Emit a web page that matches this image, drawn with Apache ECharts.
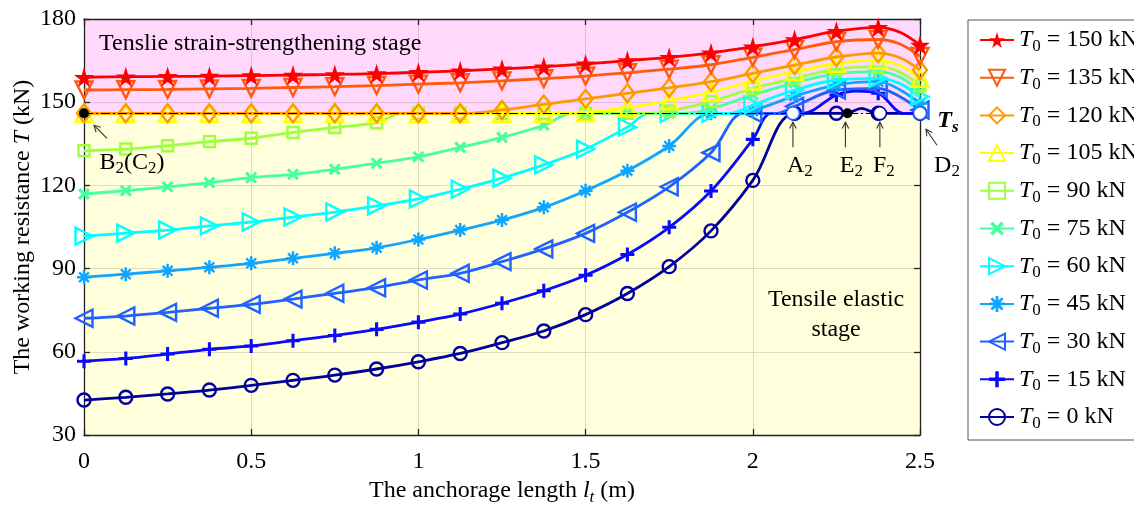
<!DOCTYPE html>
<html>
<head>
<meta charset="utf-8">
<script src="https://cdn.jsdelivr.net/npm/echarts@6/dist/echarts.min.js"></script>
<style>
html, body { margin: 0; padding: 0; background: #fff; }
#chart { width: 1134px; height: 507px; }
</style>
</head>
<body>
<div id="chart"></div>
<script>
// anchorage length where markers sit (m)
var xs = [0, 0.125, 0.25, 0.375, 0.5, 0.625, 0.75, 0.875, 1, 1.125, 1.25, 1.375, 1.5, 1.625, 1.75, 1.875, 2, 2.125, 2.25, 2.375, 2.5];
var TS = 146; // Ts, kN

// working resistance at the markers (kN), one array per T0
var t150 = [159.0, 159.2, 159.3, 159.4, 159.6, 159.8, 160.0, 160.3, 160.8, 161.3, 162.0, 162.8, 163.8, 165.0, 166.2, 167.8, 170.0, 172.6, 175.6, 177.0, 170.6];
var t135 = [154.4, 154.5, 154.6, 154.8, 155.0, 155.3, 155.6, 156.0, 156.5, 157.0, 157.7, 158.5, 159.4, 160.6, 161.9, 163.5, 166.2, 169.0, 171.8, 172.6, 166.5];
var t120 = [146, 146, 146, 146, 146, 146, 146, 146, 146, 146, 147.2, 149.2, 151.2, 153.2, 155.2, 157.4, 160.4, 163.4, 166.3, 167.7, 161.6];
var t105 = [146, 146, 146, 146, 146, 146, 146, 146, 146, 146, 146, 146, 146.3, 148.0, 150.6, 153.6, 157.6, 161.0, 164.0, 165.2, 158.6];
var t90 = [132.5, 133.1, 134.3, 135.8, 137.0, 139.1, 140.9, 142.6, 146, 146, 146, 146, 146, 146, 146.8, 150.2, 155.0, 158.6, 161.9, 162.8, 156.0];
var t75 = [116.9, 118.1, 119.5, 121.0, 122.8, 124.0, 125.8, 128.0, 130.3, 133.7, 137.3, 141.7, 146, 146, 146, 147.6, 152.6, 157.0, 160.2, 161.0, 154.0];
var t60 = [101.7, 102.8, 103.9, 105.4, 106.8, 108.6, 110.4, 112.6, 115.1, 118.6, 122.6, 127.4, 133.1, 141.0, 146, 146, 149.0, 154.4, 158.0, 158.6, 152.0];
var t45 = [86.9, 88.0, 89.2, 90.5, 91.9, 93.7, 95.5, 97.5, 100.5, 103.9, 107.5, 112.1, 118.1, 125.3, 134.2, 146, 146.8, 152.2, 156.2, 157.4, 149.5];
var t30 = [72.1, 72.9, 74.2, 75.7, 77.1, 79.0, 81.1, 83.1, 85.9, 88.3, 92.5, 97.1, 102.7, 110.3, 119.5, 131.8, 146, 148.5, 154.4, 155.0, 147.2];
var t15 = [56.6, 57.6, 59.2, 60.9, 62.1, 64.0, 65.9, 68.1, 70.7, 73.6, 77.5, 82.0, 87.6, 95.1, 104.9, 118.0, 136.6, 146, 152.6, 153.2, 146];
var t0 = [42.6, 43.6, 44.8, 46.2, 47.9, 49.7, 51.6, 53.8, 56.4, 59.4, 63.3, 67.5, 73.4, 81.0, 90.7, 103.6, 121.8, 146, 146, 146, 146];

// extra curve points between markers [l, T] (no marker)
var k150 = [[2.44, 175.2]];
var k135 = [[2.44, 171.0]];
var k120 = [[1.15, 146], [2.44, 166.0]];
var k105 = [[1.43, 146], [2.44, 163.2]];
var k90 = [[0.95, 146], [1.69, 146], [2.44, 160.8]];
var k75 = [[1.46, 146], [1.8, 146], [2.44, 159.0]];
var k60 = [[1.69, 146], [1.93, 146], [2.44, 156.7]];
var k45 = [[1.97, 146], [2.44, 154.5]];
var k30 = [[1.97, 146], [2.07, 146], [2.44, 152.0]];
var k15 = [[2.055, 146], [2.15, 146], [2.31, 154.0], [2.45, 146]];
var k0 = [[2.28, 146], [2.325, 147.8], [2.37, 146]];

var t0Labels = ['0', '15', '30', '45', '60', '75', '90', '105', '120', '135', '150'];
var colors = ['#00009c', '#0a0aff', '#1f62ff', '#10a6ff', '#00ffff', '#45ffa0', '#9dff40', '#ffff00', '#ff9900', '#ff5a10', '#ff0000'];

var serif = '"Liberation Serif", "Times New Roman", serif';

var starPath = 'path://M50,0 L61,35 L98,35 L68,57 L79,91 L50,70 L21,91 L32,57 L2,35 L39,35 Z';
var plusPath = 'path://M3.9,0 H6.1 V3.9 H10 V6.1 H6.1 V10 H3.9 V6.1 H0 V3.9 H3.9 Z';
var astPath = 'path://M4.1,0 H5.9 V4.1 H10 V5.9 H5.9 V10 H4.1 V5.9 H0 V4.1 H4.1 Z M2.1,0.9 L9.1,7.9 L7.9,9.1 L0.9,2.1 Z M7.9,0.9 L9.1,2.1 L2.1,9.1 L0.9,7.9 Z';

var marks = [
  { symbol: 'circle', size: 13, hollow: true },
  { symbol: plusPath, size: 14 },
  { symbol: 'triangle', size: 17, rotate: 90, hollow: true },
  { symbol: astPath, size: 14 },
  { symbol: 'triangle', size: 17, rotate: -90, hollow: true },
  { symbol: plusPath, size: 14, rotate: 45 },
  { symbol: 'rect', size: 11, hollow: true },
  { symbol: 'triangle', size: 17, hollow: true },
  { symbol: 'diamond', size: [14, 18], hollow: true },
  { symbol: 'triangle', size: 17, rotate: 180, hollow: true },
  { symbol: starPath, size: 20 }
];

var values = [t0, t15, t30, t45, t60, t75, t90, t105, t120, t135, t150];
var extras = [k0, k15, k30, k45, k60, k75, k90, k105, k120, k135, k150];

function buildData(vals, extra) {
  var pts = xs.map(function (x, i) { return { value: [x, vals[i]] }; });
  extra.forEach(function (p) { pts.push({ value: p, symbol: 'none' }); });
  pts.sort(function (a, b) { return a.value[0] - b.value[0]; });
  return pts;
}

var rich = {
  n: { fontFamily: serif, fontSize: 24, lineHeight: 30, color: '#000' },
  i: { fontFamily: serif, fontSize: 24, lineHeight: 30, fontStyle: 'italic', color: '#000' },
  s: { fontFamily: serif, fontSize: 17, lineHeight: 17, verticalAlign: 'bottom', color: '#000' },
  si: { fontFamily: serif, fontSize: 17, lineHeight: 17, verticalAlign: 'bottom', fontStyle: 'italic', color: '#000' },
  b: { fontFamily: serif, fontSize: 24, lineHeight: 30, fontStyle: 'italic', fontWeight: 'bold', color: '#000' },
  bs: { fontFamily: serif, fontSize: 17, lineHeight: 17, verticalAlign: 'bottom', fontStyle: 'italic', fontWeight: 'bold', color: '#000' }
};

var series = values.map(function (vals, i) {
  var m = marks[i];
  var c = colors[i];
  return {
    name: t0Labels[i],
    type: 'line',
    smooth: 0.35,
    showAllSymbol: true,
    symbol: m.symbol,
    symbolSize: m.size,
    symbolRotate: m.rotate || 0,
    lineStyle: { color: c, width: 2.8 },
    itemStyle: m.hollow
      ? { color: 'rgba(0,0,0,0)', borderColor: c, borderWidth: 2.4 }
      : { color: c, borderWidth: 0 },
    emphasis: { disabled: true },
    data: buildData(vals, extras[i]),
    z: 2 + i * 0.01
  };
});

function textPoint(coord, text, offset, extra) {
  var lab = { show: true, formatter: text, offset: offset, rich: rich, color: '#000' };
  for (var k in extra) lab[k] = extra[k];
  return { coord: coord, symbol: 'circle', symbolSize: 0.1, label: lab };
}

// pink strain-strengthening band, Ts dash-dot line
series.push({
  name: 'bands',
  type: 'line',
  data: [],
  markArea: {
    silent: true,
    itemStyle: { color: '#ffd8fb' },
    data: [[{ coord: [0, TS] }, { coord: [2.5, 180] }]]
  },
  markLine: {
    silent: true,
    symbol: 'none',
    label: { show: false },
    lineStyle: { color: '#000', width: 1.2, type: [9, 3, 2, 3] },
    data: [{ yAxis: TS }]
  }
});

// characteristic points B2(C2), A2, E2, F2, D2 and the text notes
var pB = [0, TS], pA = [2.12, TS], pE = [2.283, TS], pF = [2.38, TS], pD = [2.5, TS];

series.push({
  name: 'points',
  type: 'line',
  data: [],
  z: 6,
  markPoint: {
    silent: true,
    data: [
      { coord: pB, symbol: 'circle', symbolSize: 10, itemStyle: { color: '#000' }, label: { show: false } },
      { coord: pE, symbol: 'circle', symbolSize: 10, itemStyle: { color: '#000' }, label: { show: false } },
      { coord: pA, symbol: 'circle', symbolSize: 13, itemStyle: { color: '#fff', borderColor: '#1f62ff', borderWidth: 1.5 }, label: { show: false } },
      { coord: pF, symbol: 'circle', symbolSize: 13, itemStyle: { color: '#fff', borderColor: '#00009c', borderWidth: 1.5 }, label: { show: false } },
      { coord: pD, symbol: 'circle', symbolSize: 13, itemStyle: { color: '#fff', borderColor: '#1f62ff', borderWidth: 1.5 }, label: { show: false } },
      textPoint(pB, '{n|B}{s|2}{n|(C}{s|2}{n|)}', [48, 49]),
      textPoint(pA, '{n|A}{s|2}', [7, 52]),
      textPoint(pE, '{n|E}{s|2}', [4, 52]),
      textPoint(pF, '{n|F}{s|2}', [4, 52]),
      textPoint(pD, '{n|D}{s|2}', [27, 52]),
      textPoint(pD, '{b|T}{bs|s}', [28, 8]),
      textPoint([0.045, 171], '{n|Tenslie strain-strengthening stage}', [0, 0], { position: 'right', distance: 0 }),
      textPoint([2.249, 73.5], '{n|Tensile elastic}\n{n|stage}', [0, 0], { align: 'center', lineHeight: 28 })
    ]
  }
});

// arrows pointing at the characteristic points: tail and head offsets in px
var arrows = [
  { at: pB, tail: [23, 25], head: [10, 12] },
  { at: pA, tail: [0, 34], head: [0, 9] },
  { at: pE, tail: [-2, 34], head: [-2, 9] },
  { at: pF, tail: [0, 34], head: [0, 9] },
  { at: pD, tail: [17, 32], head: [6, 16] }
];

var axisLineStyle = { color: '#222', width: 1.3 };
var tickStyle = { inside: true, length: 6, lineStyle: { color: '#222', width: 1.3 } };
var gridLine = { show: true, lineStyle: { color: 'rgba(0,0,0,0.13)', width: 1 } };
var labelStyle = { fontFamily: serif, fontSize: 24, color: '#000' };

var chart = echarts.init(document.getElementById('chart'));
chart.setOption({
  animation: false,
  backgroundColor: '#fff',
  grid: {
    left: 84, right: 214, top: 19, bottom: 72,
    outerBoundsMode: 'none', containLabel: false,
    show: true, backgroundColor: '#ffffdc', borderWidth: 0
  },
  xAxis: [{
    type: 'value', min: 0, max: 2.5, interval: 0.5, position: 'bottom', z: 1.5,
    axisLine: { show: true, onZero: false, lineStyle: axisLineStyle },
    axisTick: tickStyle,
    splitLine: gridLine,
    axisLabel: Object.assign({ margin: 15 }, labelStyle),
    name: '{n|The anchorage length }{i|l}{si|t}{n| (m)}',
    nameLocation: 'middle', nameGap: 41, nameMoveOverlap: false,
    nameTextStyle: { rich: rich }
  }, {
    type: 'value', min: 0, max: 2.5, interval: 0.5, position: 'top', z: 1.5,
    axisLine: { show: true, onZero: false, lineStyle: axisLineStyle },
    axisTick: tickStyle, axisLabel: { show: false }, splitLine: { show: false }
  }],
  yAxis: [{
    type: 'value', min: 30, max: 180, interval: 30, position: 'left', z: 1.5,
    axisLine: { show: true, onZero: false, lineStyle: axisLineStyle },
    axisTick: tickStyle,
    splitLine: gridLine,
    axisLabel: Object.assign({ margin: 8 }, labelStyle),
    name: '{n|The working resistance }{i|T}{n| (kN)}',
    nameLocation: 'middle', nameGap: 46, nameMoveOverlap: false,
    nameTextStyle: { rich: rich }
  }, {
    type: 'value', min: 30, max: 180, interval: 30, position: 'right', z: 1.5,
    axisLine: { show: true, onZero: false, lineStyle: axisLineStyle },
    axisTick: tickStyle, axisLabel: { show: false }, splitLine: { show: false }
  }],
  legend: {
    data: t0Labels.slice().reverse(),
    orient: 'vertical',
    left: 968, top: 20,
    padding: [8, 40, 8, 11],
    itemGap: 10.7,
    itemWidth: 34, itemHeight: 20,
    itemTextGap: 8,
    borderColor: '#555', borderWidth: 1,
    backgroundColor: '#fff',
    selectedMode: false,
    formatter: function (name) { return '{i|T}{s|0}{n| = ' + name + ' kN}'; },
    textStyle: { rich: rich }
  },
  series: series
});

// draw the arrows at the pixel positions of their points
var g = [];
arrows.forEach(function (a) {
  var p = chart.convertToPixel({ gridIndex: 0 }, a.at);
  var tx = p[0] + a.tail[0], ty = p[1] + a.tail[1];
  var hx = p[0] + a.head[0], hy = p[1] + a.head[1];
  var dx = hx - tx, dy = hy - ty, len = Math.sqrt(dx * dx + dy * dy);
  dx /= len; dy /= len;
  var ang = 28 * Math.PI / 180, h = 7;
  function wing(s) {
    var c = Math.cos(s * ang), sn = Math.sin(s * ang);
    var rx = dx * c - dy * sn, ry = dx * sn + dy * c;
    return [hx - h * rx, hy - h * ry];
  }
  var style = { stroke: '#333', lineWidth: 1.1, fill: null };
  g.push({ type: 'line', silent: true, z: 100, shape: { x1: tx, y1: ty, x2: hx, y2: hy }, style: style });
  g.push({ type: 'polyline', silent: true, z: 100, shape: { points: [wing(1), [hx, hy], wing(-1)] }, style: style });
});
chart.setOption({ graphic: g });
</script>
</body>
</html>
